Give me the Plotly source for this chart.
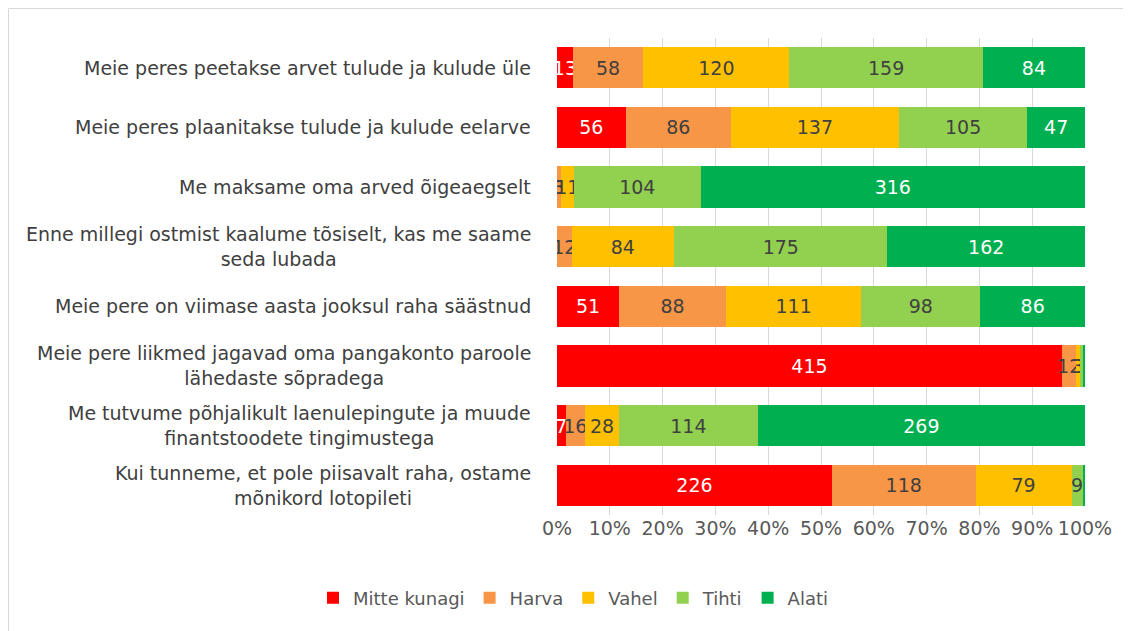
import plotly.graph_objects as go

categories = [
    "Meie peres peetakse arvet tulude ja kulude üle",
    "Meie peres plaanitakse tulude ja kulude eelarve",
    "Me maksame oma arved õigeaegselt",
    "Enne millegi ostmist kaalume tõsiselt, kas me saame<br>seda lubada",
    "Meie pere on viimase aasta jooksul raha säästnud",
    "Meie pere liikmed jagavad oma pangakonto paroole<br>lähedaste sõpradega",
    "Me tutvume põhjalikult laenulepingute ja muude<br>finantstoodete tingimustega",
    "Kui tunneme, et pole piisavalt raha, ostame<br>mõnikord lotopileti",
]
series_names = ["Mitte kunagi", "Harva", "Vahel", "Tihti", "Alati"]
mitte_kunagi = [13, 56, 0, 0, 51, 415, 7, 226]
harva = [58, 86, 3, 12, 88, 12, 16, 118]
vahel = [120, 137, 11, 84, 111, 3, 28, 79]
tihti = [159, 105, 104, 175, 98, 2, 114, 9]
alati = [84, 47, 316, 162, 86, 2, 269, 2]
tick_vals = [0, 10, 20, 30, 40, 50, 60, 70, 80, 90, 100]
tick_text = ["0%", "10%", "20%", "30%", "40%", "50%", "60%", "70%", "80%", "90%", "100%"]

colors = ["#FF0000", "#F79646", "#FFC000", "#92D050", "#00B050"]
text_colors = ["#FFFFFF", "#404040", "#404040", "#404040", "#FFFFFF"]
FONT = "DejaVu Sans"
FS = 19

W, H = 1131, 631
ml, mr, mt, mb = 549, 54, 30, 124

fig = go.Figure()
for name, vals, c, tc in zip(series_names, [mitte_kunagi, harva, vahel, tihti, alati], colors, text_colors):
    fig.add_trace(go.Bar(
        y=categories, x=vals, name=name, orientation="h",
        marker=dict(color=c, line=dict(width=0)),
        text=[str(v) if v >= 3 else "" for v in vals],
        textposition="inside", insidetextanchor="middle",
        constraintext="none", textangle=0,
        textfont=dict(color=tc, size=FS, family=FONT),
        hoverinfo="skip",
    ))

for cat in categories:
    fig.add_annotation(
        x=0, xref="paper", y=cat, yref="y", xanchor="right", yanchor="middle",
        xshift=-24, text=cat, showarrow=False, align="center",
        font=dict(size=FS, color="#404040", family=FONT),
    )

pw = W - ml - mr
ph = H - mt - mb
fig.add_shape(type="rect", xref="paper", yref="paper",
              x0=(0.5 - ml) / pw, x1=(W + 5 - ml) / pw,
              y0=-(H + 5 - mt - ph) / ph, y1=(mt - 0.5) / ph + 1,
              line=dict(color="#D9D9D9", width=1), layer="below")

fig.update_layout(
    width=W, height=H,
    barmode="stack", barnorm="percent", bargap=0.31,
    margin=dict(l=ml, r=mr, t=mt, b=mb),
    paper_bgcolor="white", plot_bgcolor="white",
    font=dict(family=FONT, color="#595959"),
    xaxis=dict(range=[0, 100], tickvals=tick_vals, ticktext=tick_text,
               showgrid=True, gridcolor="#D9D9D9", gridwidth=1,
               zeroline=False, showline=False, ticks="",
               tickfont=dict(size=FS, color="#595959", family=FONT)),
    yaxis=dict(autorange="reversed", showticklabels=False, showgrid=False,
               showline=False, ticks="", zeroline=False),
    legend=dict(orientation="h", x=0.5, xanchor="center", xref="container",
                y=0.065, yref="container", yanchor="middle",
                font=dict(size=18, color="#595959", family=FONT),
                itemwidth=30, traceorder="normal"),
    showlegend=True,
)

fig.write_html("out.html")
